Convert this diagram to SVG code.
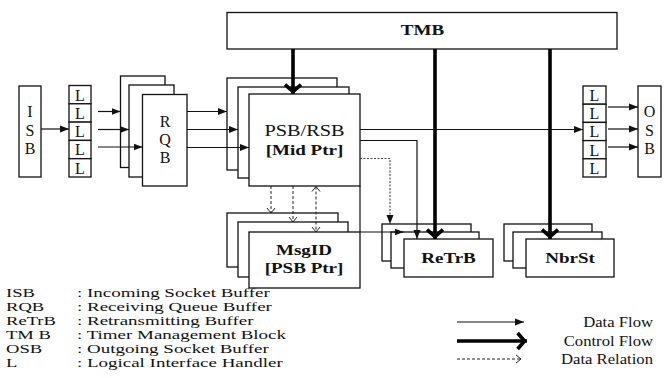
<svg xmlns="http://www.w3.org/2000/svg" width="667" height="378" viewBox="0 0 667 378" font-family="Liberation Serif, serif">
  <style>
    .box { fill: #fff; stroke: #111; stroke-width: 1.3; }
    .t { font-family: 'Liberation Serif', serif; fill: #111; }
    .b { font-weight: bold; }
    .c { text-anchor: middle; }
    .e { text-anchor: end; }
    .flow { fill: none; stroke: #111; stroke-width: 1.2; marker-end: url(#ah); }
    .ctrl { fill: none; stroke: #000; stroke-width: 3.6; marker-end: url(#ch); }
    .rel { fill: none; stroke: #222; stroke-width: 1; stroke-dasharray: 3 2; marker-end: url(#oc); }
    .dot { fill: none; stroke: #444; stroke-width: 1.1; stroke-dasharray: 2 1.5; marker-end: url(#ah); }
    .ln { fill: none; stroke: #111; stroke-width: 1.2; }
  </style>
  <defs>
    <marker id="ah" markerUnits="userSpaceOnUse" markerWidth="10" markerHeight="8" refX="9" refY="4" orient="auto">
      <path d="M0,0.5 L9,4 L0,7.5 z" fill="#111"/>
    </marker>
    <marker id="ch" markerUnits="userSpaceOnUse" markerWidth="16" markerHeight="20" refX="11.4" refY="10" orient="auto" overflow="visible">
      <path d="M2,2 L9,10 L2,18" fill="none" stroke="#000" stroke-width="3.6"/>
    </marker>
    <marker id="oc" markerUnits="userSpaceOnUse" markerWidth="8" markerHeight="10" refX="6" refY="5" orient="auto-start-reverse">
      <path d="M1,1 L6,5 L1,9" fill="none" stroke="#222" stroke-width="1"/>
    </marker>
  </defs>
  <rect width="667" height="378" fill="#fff"/>

  <!-- timer management block -->
  <g id="tmb">
    <rect class="box" x="227" y="12.5" width="390" height="36.5"/>
    <text class="t b c" font-size="15" transform="translate(422.5 35) scale(1.27 1)">TMB</text>
  </g>

  <!-- incoming socket buffer -->
  <g id="isb">
    <rect class="box" x="19" y="86" width="22" height="91"/>
    <text class="t c" font-size="16" x="30" y="117">I</text>
    <text class="t c" font-size="16" x="30" y="136">S</text>
    <text class="t c" font-size="16" x="30" y="154">B</text>
  </g>

  <!-- logical interface handlers, inbound -->
  <g id="l-in">
    <rect class="box" x="69" y="85.5" width="22" height="18.3"/>
    <rect class="box" x="69" y="103.8" width="22" height="18.3"/>
    <rect class="box" x="69" y="122.1" width="22" height="18.3"/>
    <rect class="box" x="69" y="140.4" width="22" height="18.3"/>
    <rect class="box" x="69" y="158.7" width="22" height="18.3"/>
    <text class="t c" font-size="16" x="80" y="100.5">L</text>
    <text class="t c" font-size="16" x="80" y="118.8">L</text>
    <text class="t c" font-size="16" x="80" y="137.1">L</text>
    <text class="t c" font-size="16" x="80" y="155.4">L</text>
    <text class="t c" font-size="16" x="80" y="173.7">L</text>
  </g>

  <!-- receiving queue buffers -->
  <g id="rqb">
    <rect class="box" x="120.5" y="76" width="44.5" height="91.5"/>
    <rect class="box" x="129" y="85" width="45" height="92"/>
    <rect class="box" x="142.5" y="94.5" width="44.5" height="91.5"/>
    <text class="t c" font-size="16" x="165" y="127">R</text>
    <text class="t c" font-size="16" x="165" y="145">Q</text>
    <text class="t c" font-size="16" x="165" y="163">B</text>
  </g>

  <!-- packet / retransmit state blocks -->
  <g id="psb">
    <rect class="box" x="227" y="78" width="110" height="92"/>
    <rect class="box" x="238" y="87" width="111" height="91"/>
    <rect class="box" x="249" y="94" width="111" height="92"/>
    <text class="t c" font-size="16" transform="translate(304.5 136) scale(1.27 1)">PSB/RSB</text>
    <text class="t b c" font-size="15" transform="translate(304.5 155) scale(1.27 1)">[Mid Ptr]</text>
  </g>

  <!-- message id table -->
  <g id="msgid">
    <rect class="box" x="227" y="213" width="111" height="54"/>
    <rect class="box" x="238" y="222" width="110" height="55"/>
    <rect class="box" x="249" y="232" width="111" height="56"/>
    <text class="t b c" font-size="15" transform="translate(304 255) scale(1.27 1)">MsgID</text>
    <text class="t b c" font-size="15" transform="translate(304 273) scale(1.27 1)">[PSB Ptr]</text>
  </g>

  <!-- retransmitting buffers -->
  <g id="retrb">
    <rect class="box" x="382" y="224" width="89" height="37"/>
    <rect class="box" x="391" y="232" width="88" height="36"/>
    <rect class="box" x="404" y="239" width="89" height="38"/>
    <text class="t b c" font-size="15" transform="translate(448.5 263) scale(1.27 1)">ReTrB</text>
  </g>

  <!-- neighbour state -->
  <g id="nbrst">
    <rect class="box" x="504" y="224" width="88" height="37"/>
    <rect class="box" x="513" y="232" width="89" height="36"/>
    <rect class="box" x="526" y="239" width="88" height="38"/>
    <text class="t b c" font-size="15" transform="translate(570 263) scale(1.27 1)">NbrSt</text>
  </g>

  <!-- logical interface handlers, outbound -->
  <g id="l-out">
    <rect class="box" x="583" y="86" width="23" height="18.2"/>
    <rect class="box" x="583" y="104.2" width="23" height="18.2"/>
    <rect class="box" x="583" y="122.4" width="23" height="18.2"/>
    <rect class="box" x="583" y="140.6" width="23" height="18.2"/>
    <rect class="box" x="583" y="158.8" width="23" height="18.2"/>
    <text class="t c" font-size="16" x="594.5" y="101">L</text>
    <text class="t c" font-size="16" x="594.5" y="119.2">L</text>
    <text class="t c" font-size="16" x="594.5" y="137.4">L</text>
    <text class="t c" font-size="16" x="594.5" y="155.6">L</text>
    <text class="t c" font-size="16" x="594.5" y="173.8">L</text>
  </g>

  <!-- outgoing socket buffer -->
  <g id="osb">
    <rect class="box" x="638" y="86" width="23" height="91"/>
    <text class="t c" font-size="16" x="649.5" y="117">O</text>
    <text class="t c" font-size="16" x="649.5" y="135.5">S</text>
    <text class="t c" font-size="16" x="649.5" y="154">B</text>
  </g>

  <!-- connectors -->
  <g id="connectors">
    <path class="flow" d="M41,129 H69"/>
    <path class="flow" d="M98,111.5 H120.5"/>
    <path class="flow" d="M98,129.5 H129"/>
    <path class="flow" d="M98,147 H142.5"/>
    <path class="flow" d="M187,111.5 H227"/>
    <path class="flow" d="M187,129.5 H238"/>
    <path class="flow" d="M187,147.5 H249"/>
    <path class="flow" d="M360,129.5 H583"/>
    <path class="flow" d="M608,107 H638"/>
    <path class="flow" d="M608,129 H638"/>
    <path class="flow" d="M608,147 H638"/>
    <path class="flow" d="M360,140.5 H417 V239"/>
    <path class="dot" d="M360,158.5 H390 V224"/>
    <path class="ln" d="M360,186 V232"/>
    <path class="flow" d="M360,232 H403.5"/>
    <path class="rel" d="M271,186 V213"/>
    <path class="rel" d="M293,186 V222"/>
    <path class="rel" d="M316,186.5 V232" style="marker-start:url(#oc)"/>
    <path class="ctrl" d="M293,49 V94"/>
    <path class="ctrl" d="M435,49 V239"/>
    <path class="ctrl" d="M550,49 V239"/>
  </g>

  <!-- abbreviation key -->
  <g id="key">
    <text class="t" font-size="12" transform="translate(6 297) scale(1.55 1)">ISB</text>
    <text class="t" font-size="12" transform="translate(6 311) scale(1.55 1)">RQB</text>
    <text class="t" font-size="12" transform="translate(6 325) scale(1.55 1)">ReTrB</text>
    <text class="t" font-size="12" transform="translate(6 339) scale(1.55 1)">TM B</text>
    <text class="t" font-size="12" transform="translate(6 353) scale(1.55 1)">OSB</text>
    <text class="t" font-size="12" transform="translate(6 367) scale(1.55 1)">L</text>
    <text class="t" font-size="12" transform="translate(77 297) scale(1.58 1)">: Incoming Socket Buffer</text>
    <text class="t" font-size="12" transform="translate(77 311) scale(1.58 1)">: Receiving Queue Buffer</text>
    <text class="t" font-size="12" transform="translate(77 325) scale(1.58 1)">: Retransmitting Buffer</text>
    <text class="t" font-size="12" transform="translate(77 339) scale(1.58 1)">: Timer Management Block</text>
    <text class="t" font-size="12" transform="translate(77 353) scale(1.58 1)">: Outgoing Socket Buffer</text>
    <text class="t" font-size="12" transform="translate(77 367) scale(1.58 1)">: Logical Interface Handler</text>
  </g>

  <!-- line style key -->
  <g id="line-key">
    <path class="flow" d="M457,322 H524"/>
    <path class="ctrl" d="M457,341 H527"/>
    <path class="rel" d="M457,359 H521"/>
    <text class="t e" font-size="14" transform="translate(653 327) scale(1.19 1)">Data Flow</text>
    <text class="t e" font-size="14" transform="translate(653 345.5) scale(1.19 1)">Control Flow</text>
    <text class="t e" font-size="14" transform="translate(653 364) scale(1.19 1)">Data Relation</text>
  </g>
</svg>
